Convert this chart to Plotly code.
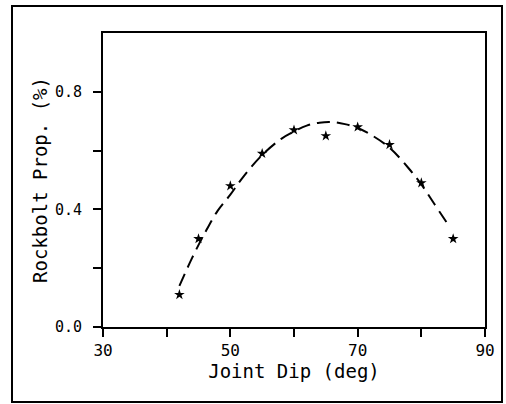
import plotly.graph_objects as go

# Measured data points (Joint Dip in degrees, Rockbolt proportion)
dip_deg = [42, 45, 50, 55, 60, 65, 70, 75, 80, 85]
rockbolt_prop = [0.11, 0.30, 0.48, 0.59, 0.67, 0.65, 0.68, 0.62, 0.49, 0.30]

# Fitted trend curve
fit_dip = [42, 44, 46, 48, 50, 52, 55, 58, 60, 62, 64, 66, 68, 70, 72, 75, 78, 80, 82, 84]
fit_prop = [0.14, 0.235, 0.32, 0.395, 0.45, 0.51, 0.585, 0.64, 0.665, 0.685, 0.695,
            0.697, 0.69, 0.677, 0.655, 0.61, 0.54, 0.485, 0.42, 0.355]

x_tickvals = [30, 40, 50, 60, 70, 80, 90]
x_ticktext = ["30", "", "50", "", "70", "", "90"]
y_tickvals = [0.0, 0.2, 0.4, 0.6, 0.8]
y_ticktext = ["0.0", "", "0.4", "", "0.8"]

FONT = "DejaVu Sans Mono"

fig = go.Figure()
fig.add_trace(go.Scatter(
    x=fit_dip, y=fit_prop, mode="lines", line_shape="spline",
    line=dict(color="black", width=2, dash="13px,7px"),
    showlegend=False, hoverinfo="skip",
))
fig.add_trace(go.Scatter(
    x=dip_deg, y=rockbolt_prop, mode="markers",
    marker=dict(symbol="star", size=8, color="black"),
    showlegend=False,
))

fig.update_layout(
    width=506, height=404,
    margin=dict(l=103, r=21, t=33, b=77),
    paper_bgcolor="white", plot_bgcolor="white",
    font=dict(family=FONT, color="black"),
    xaxis=dict(
        range=[30, 90], tickvals=x_tickvals, ticktext=x_ticktext,
        ticks="outside", ticklen=8, tickwidth=1.5, tickcolor="black",
        showline=True, linecolor="black", linewidth=2, mirror=True,
        showgrid=False, zeroline=False,
        tickfont=dict(family=FONT, size=16),
        title=dict(text="Joint Dip (deg)", font=dict(family=FONT, size=19), standoff=2),
    ),
    yaxis=dict(
        range=[0, 1], tickvals=y_tickvals, ticktext=y_ticktext,
        ticks="outside", ticklen=8, tickwidth=1.5, tickcolor="black",
        showline=True, linecolor="black", linewidth=2, mirror=True,
        showgrid=False, zeroline=False, ticklabelstandoff=8,
        tickfont=dict(family=FONT, size=15),
        title=dict(text="Rockbolt Prop. (%)", font=dict(family=FONT, size=19), standoff=2),
    ),
    shapes=[dict(
        type="rect", xref="paper", yref="paper",
        x0=(12 - 103) / 382, x1=(502 - 103) / 382,
        y0=(327 - 402) / 294, y1=(327 - 6) / 294,
        line=dict(color="black", width=2), fillcolor="rgba(0,0,0,0)", layer="below",
    )],
)

fig.write_html("out.html")
